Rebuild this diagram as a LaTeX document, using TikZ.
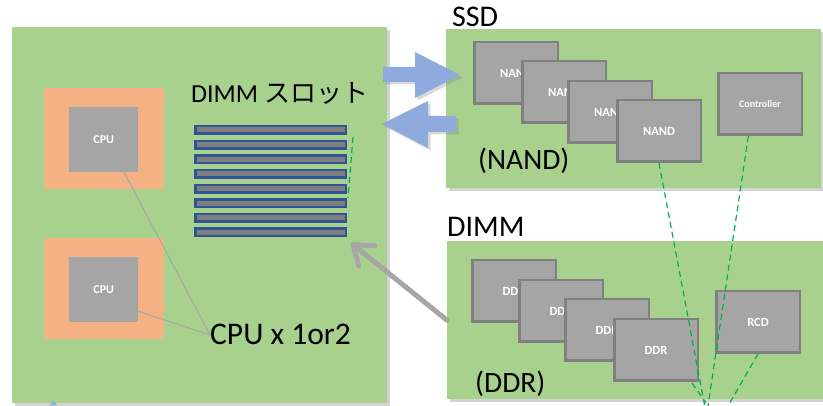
\documentclass[tikz,border=0pt]{standalone}
\usepackage{fontspec}
\setmainfont{Carlito}
\newfontfamily\jpfont{Noto Sans CJK JP}
\usetikzlibrary{shadows,arrows.meta}
\definecolor{boardgreen}{HTML}{A9D18E}
\definecolor{pkgorange}{HTML}{F4B183}
\definecolor{chipgray}{HTML}{A5A5A5}
\definecolor{chipedge}{HTML}{808080}
\definecolor{slotblue}{HTML}{2F5597}
\definecolor{slotgray}{HTML}{7F7F7F}
\definecolor{arrowblue}{HTML}{8FAADC}
\definecolor{arrowgray}{HTML}{A6A6A6}
\definecolor{linkgreen}{HTML}{00B050}
\begin{document}
\begin{tikzpicture}[x=1pt,y=-1pt,
  board/.style={fill=boardgreen, draw=none, inner sep=0pt, anchor=north west,
    drop shadow={shadow xshift=3pt, shadow yshift=-3pt, opacity=0.35}},
  pkg/.style={fill=pkgorange, draw=none, inner sep=0pt, anchor=north west,
    minimum width=120pt, minimum height=101pt},
  cpubox/.style={fill=chipgray, draw=none, inner sep=0pt, anchor=north west,
    minimum width=69pt, minimum height=65pt, text=white,
    font=\bfseries\fontsize{12}{14}\selectfont},
  chip/.style={fill=chipgray, draw=chipedge, line width=2.5pt, text=white,
    font=\bfseries\fontsize{12.5}{14}\selectfont, inner sep=0pt,
    minimum width=83.5pt, minimum height=61.5pt, anchor=north west},
  slot/.style={fill=slotgray, draw=slotblue, line width=2.5pt, inner sep=0pt,
    minimum width=150.5pt, minimum height=7.5pt},
  lbl/.style={inner sep=0pt, anchor=base west, text=black},
  cpulink/.style={draw=arrowgray, line width=1pt},
  greenlink/.style={draw=linkgreen, line width=1.2pt, dash pattern=on 6pt off 4pt},
  bigarrow/.style={fill=arrowblue, draw=none,
    drop shadow={shadow xshift=2.5pt, shadow yshift=-2.5pt, opacity=0.3}}
]
\useasboundingbox (0,0) rectangle (823,406);

% boards
\node[board, minimum width=375pt, minimum height=376pt] (mainboard) at (12,27) {};
\node[board, minimum width=375pt, minimum height=159pt] (ssd) at (446,29) {};
\node[board, minimum width=376pt, minimum height=158pt] (dimm) at (447,241) {};

% CPUs
\node[pkg] (pkg1) at (44,88) {};
\node[cpubox] (cpu1) at (69,107) {CPU};
\node[pkg] (pkg2) at (44,238) {};
\node[cpubox] (cpu2) at (69,257) {CPU};

% labels
\node[lbl, font=\fontsize{26}{30}\selectfont] (slotlbl) at (191,103) {DIMM {\jpfont スロット}};
\node[lbl, font=\fontsize{31.5}{36}\selectfont] (cpulbl) at (210,345) {CPU x 1or2};
\node[lbl, font=\fontsize{30}{34}\selectfont] (ssdlbl) at (452,27) {SSD};
\node[lbl, font=\fontsize{30}{34}\selectfont] (dimmlbl) at (447,237) {DIMM};
\node[lbl, font=\fontsize{29.5}{34}\selectfont] (nandlbl) at (478,170) {(NAND)};
\node[lbl, font=\fontsize{29.5}{34}\selectfont] (ddrlbl) at (475,392) {(DDR)};

% CPU links
\draw[cpulink] (cpu1.-58) -- (cpulbl.west);
\draw[cpulink] (cpu2.-32) -- (cpulbl.west);

% DIMM slots
\foreach \i in {1,...,8} {
  \node[slot] (slot\i) at (270.5, {130+14.64*(\i-1)}) {};
}

% SSD chips
\node[chip] (nand1) at (473,41) {NAND};
\node[chip] (nand2) at (521,60) {NAND};
\node[chip] (nand3) at (567,80) {NAND};
\node[chip] (nand4) at (616,99) {NAND};
\node[chip, font=\bfseries\fontsize{10}{12}\selectfont] (ctrl) at (717,72) {Controller};

% DIMM chips
\node[chip] (ddr1) at (471,259) {DDR};
\node[chip] (ddr2) at (518,279) {DDR};
\node[chip] (ddr3) at (564,298) {DDR};
\node[chip] (ddr4) at (613,318) {DDR};
\node[chip] (rcd) at (715,290) {RCD};

% green dashed links
\coordinate (ga) at (704.7,406);
\coordinate (gb) at (708,406);
\coordinate (gc) at (728,406);
\coordinate (gd0) at (692,383);
\coordinate (gd) at (706,403);
\coordinate (gs0) at (353,137);
\coordinate (gs1) at (348,198);
\draw[greenlink] (nand4.south) -- (ga);
\draw[greenlink] (ctrl.-110) -- (gb);
\draw[greenlink] (rcd.south) -- (gc);
\draw[greenlink] (gd0) -- (gd);
\draw[greenlink] (gs0) -- (gs1);

% blue arrows
\path[bigarrow] (383,67) -- (415,67) -- (415,52) -- (460,75) -- (415,98) -- (415,82) -- (383,82) -- cycle;
\path[bigarrow] (456,116) -- (428,116) -- (428,101) -- (382,124) -- (428,148) -- (428,132) -- (456,132) -- cycle;

% gray arrow
\coordinate (gtip) at (351,243);
\draw[draw=arrowgray, line width=5pt, line cap=round,
  -{Straight Barb[length=18pt, width=26pt, round]}] (dimm.west) -- (gtip);

% tiny blue mark
\fill[arrowblue] (50,405.5) -- (53.5,400.5) -- (57,405.5) -- cycle;
\end{tikzpicture}
\end{document}
